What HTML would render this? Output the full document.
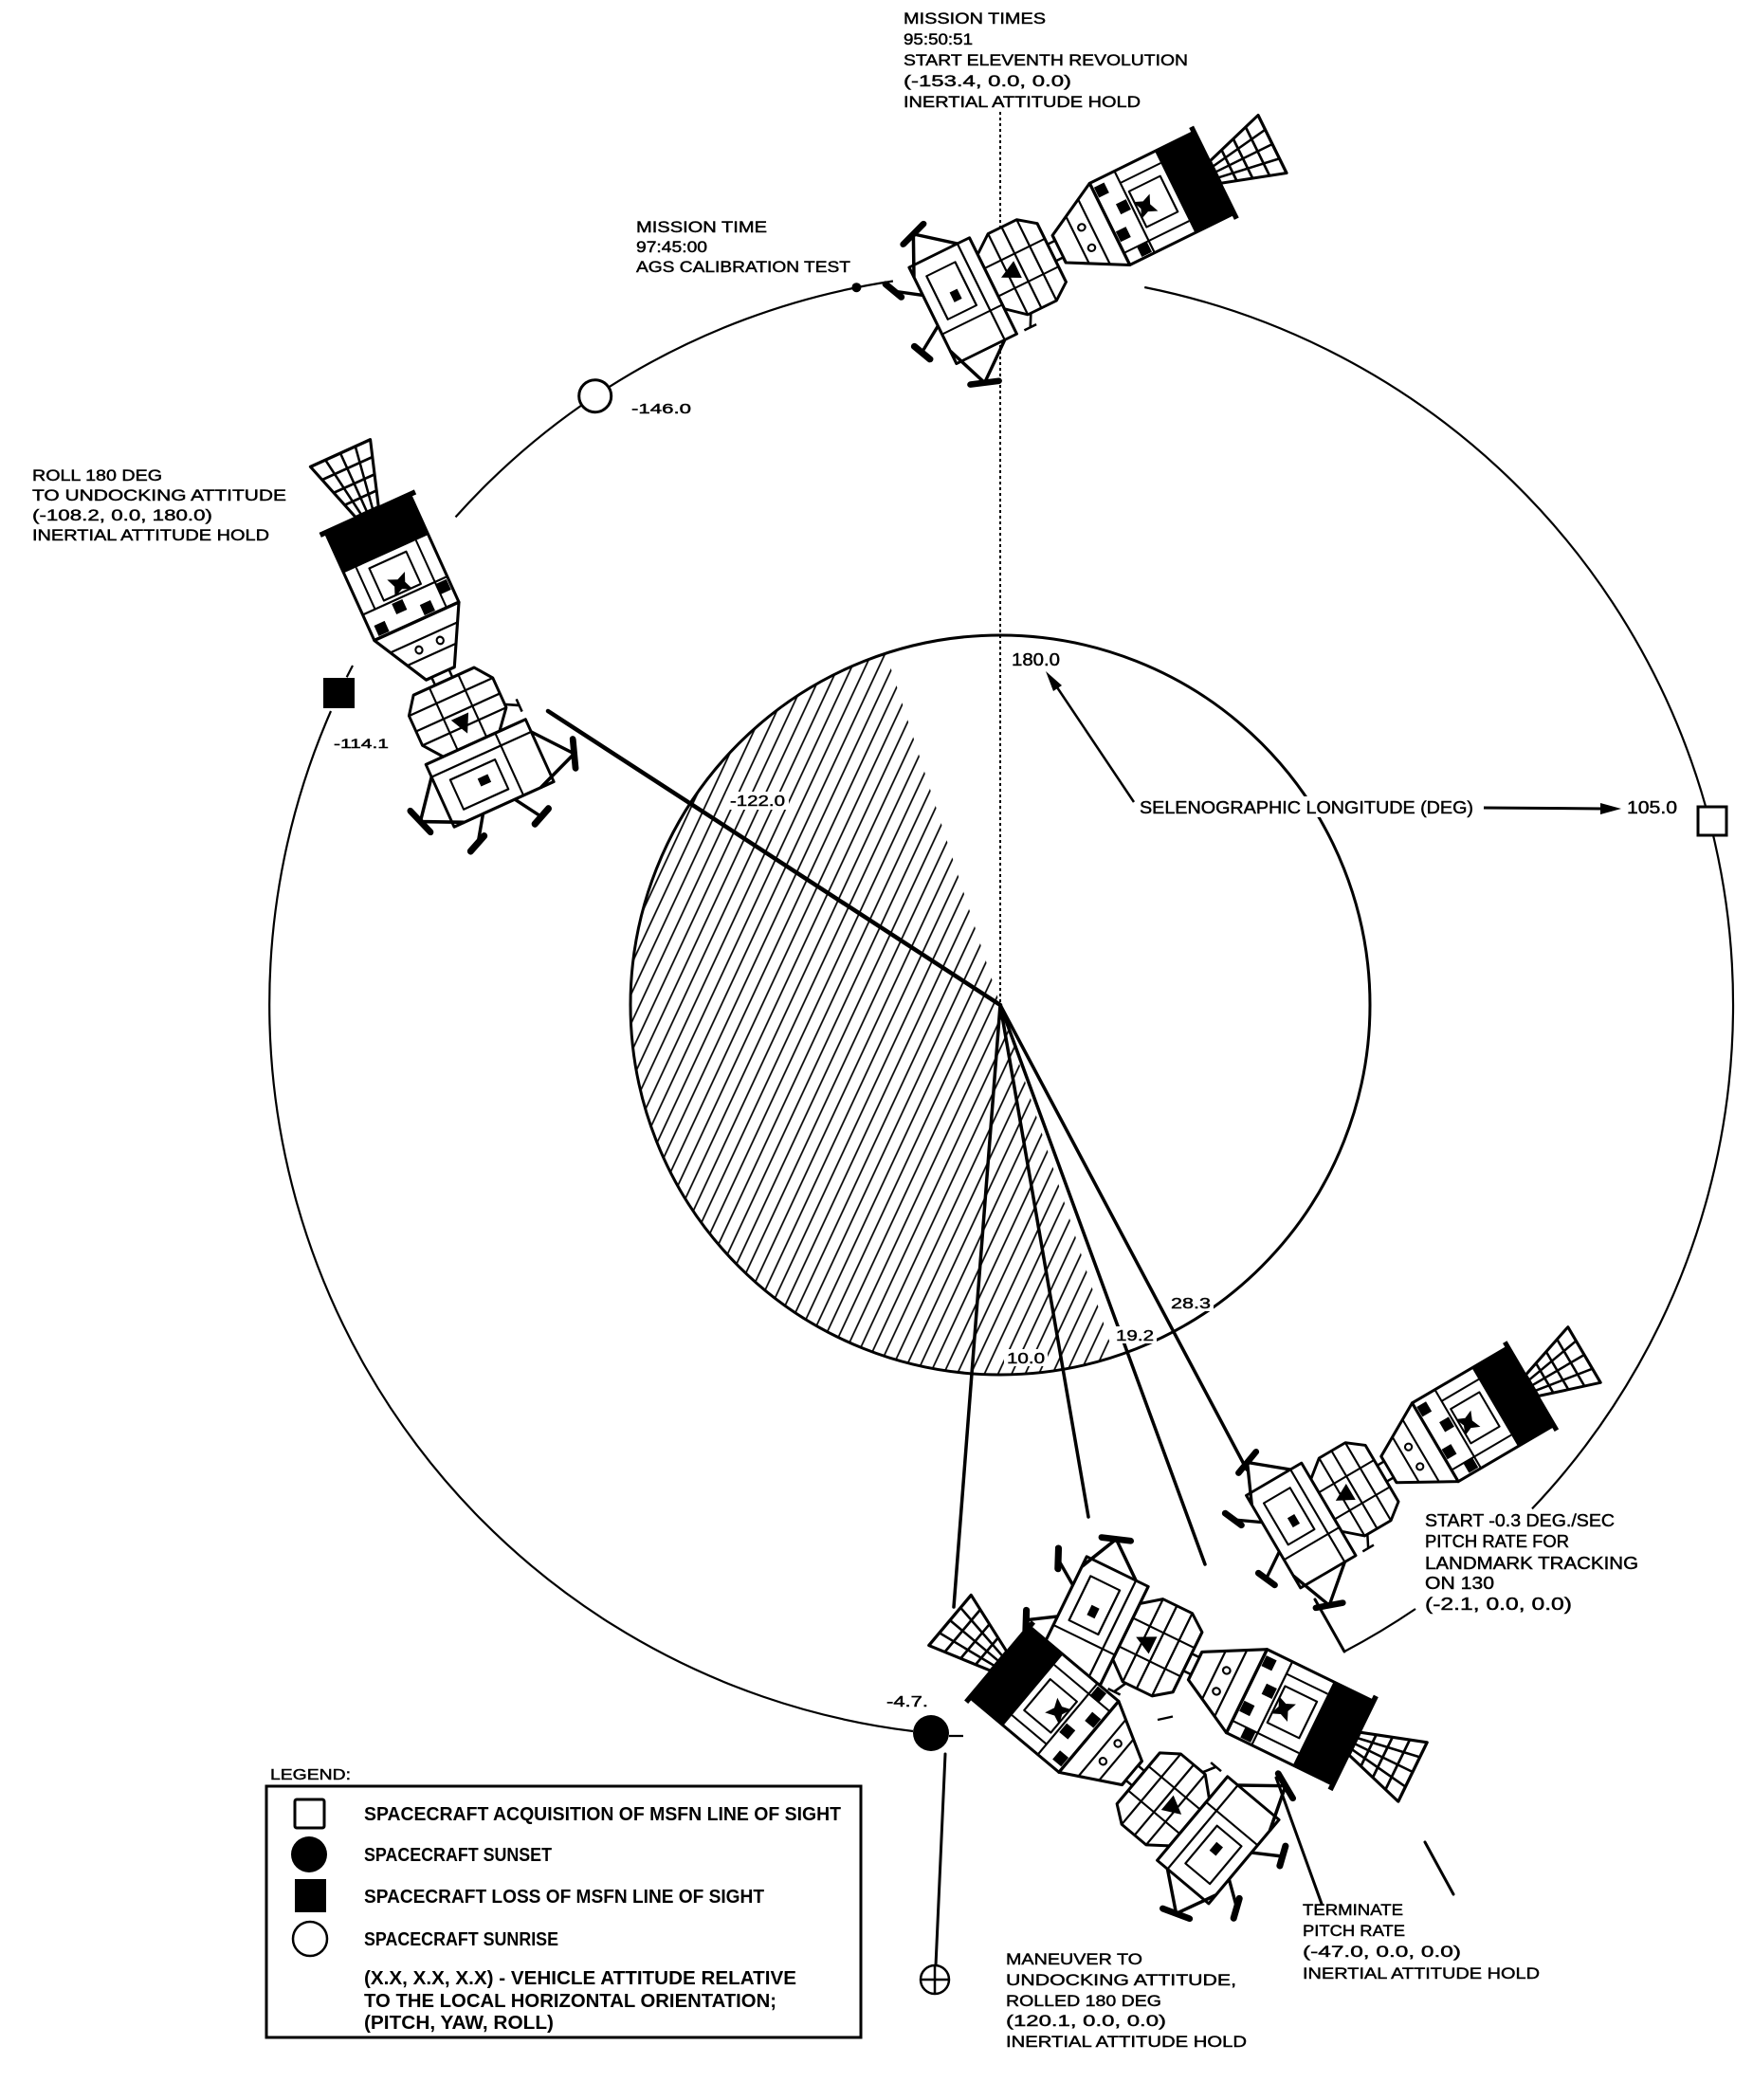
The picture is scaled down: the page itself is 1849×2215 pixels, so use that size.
<!DOCTYPE html>
<html>
<head>
<meta charset="utf-8">
<style>
html,body{margin:0;padding:0;background:#fff;}
body{width:1849px;height:2215px;overflow:hidden;}
svg{display:block;}
text{font-family:"Liberation Sans",sans-serif;fill:#000;stroke:#000;stroke-width:0.45;}
.b{font-weight:bold;stroke-width:0;}
</style>
</head>
<body>
<svg width="1849" height="2215" viewBox="0 0 1849 2215" xmlns="http://www.w3.org/2000/svg" xmlns:xlink="http://www.w3.org/1999/xlink">
<defs>
  <pattern id="h" patternUnits="userSpaceOnUse" width="13" height="13" patternTransform="rotate(25)">
    <line x1="6.5" y1="-1" x2="6.5" y2="14" stroke="#000" stroke-width="1.7"/>
  </pattern>
  <g id="ship" stroke="#000" stroke-linejoin="round" fill="#fff">
    <!-- nozzle -->
    <path d="M0,-34 L62,-13 L62,13 L0,34 Z" stroke-width="3"/>
    <path d="M16,-28.6 V28.6 M32,-23.4 V23.4 M47,-18.2 V18.2 M0,-17 L62,-6.5 M0,0 H62 M0,17 L62,6.5" fill="none" stroke-width="2.5"/>
    <rect x="61" y="-54" width="5" height="108" fill="#000" stroke="none"/>
    <!-- service module -->
    <rect x="66" y="-48" width="111" height="96" stroke-width="3"/>
    <rect x="66" y="-48" width="40" height="96" fill="#000" stroke="none"/>
    <path d="M106,-34 H177 M150,-48 V48 M112,-20 H146 V22 H112 Z M106,34 H150" fill="none" stroke-width="2"/>
    <path d="M129,-10 L133,0 L129,10 L138,6 L147,10 L143,0 L147,-10 L138,-6 Z" fill="#000" stroke="none"/>
    <rect x="152" y="-46" width="11" height="12" fill="#000" stroke="none"/>
    <rect x="164" y="-22" width="11" height="12" fill="#000" stroke="none"/>
    <rect x="152" y="4" width="11" height="12" fill="#000" stroke="none"/>
    <rect x="164" y="30" width="11" height="12" fill="#000" stroke="none"/>
    <!-- command module cone -->
    <path d="M177,-48 L232,-16 L232,16 L177,48 Z" stroke-width="3"/>
    <path d="M194,-38 V38 M212,-27 V27" fill="none" stroke-width="2"/>
    <circle cx="203" cy="-14" r="3.5" stroke-width="2"/>
    <circle cx="203" cy="10" r="3.5" stroke-width="2"/>
    <!-- lunar module (scaled about docking point) -->
    <g transform="translate(232,0) scale(0.82) translate(-232,0)">
      <rect x="232" y="-12" width="10" height="24" stroke-width="3"/>
      <path d="M242,-42 L262,-58 L300,-58 L322,-38 L322,40 L300,58 L262,58 L242,42 Z" stroke-width="3.5"/>
      <path d="M262,-58 V58 M282,-58 V58 M242,-20 H322 M242,20 H322 M300,-58 V58" fill="none" stroke-width="2.5"/>
      <path d="M287,-12 L309,0 L287,12 Z" fill="#000" stroke="none"/>
      <path d="M296,-58 L304,-74 M296,-74 H312" fill="none" stroke-width="3"/>
      <path d="M322,-74 L402,-74 L402,64 L322,64 Z" stroke-width="3.5"/>
      <path d="M338,-74 V64 M322,-32 H402 M350,-18 H388 V44 H350 Z" fill="none" stroke-width="2.5"/>
      <rect x="362" y="-2" width="10" height="14" fill="#000" stroke="none"/>
      <path d="M338,-74 L382,-112 M402,-56 L382,-112 M338,64 L380,100 M402,50 L380,100 M402,-20 L434,-42 M402,24 L432,46" fill="none" stroke-width="4"/>
      <path d="M366,-118 L398,-106 M364,106 L396,94 M428,-54 L438,-30 M426,34 L436,58" fill="none" stroke-width="8" stroke-linecap="round"/>
    </g>
  </g>
</defs>

<rect x="0" y="0" width="1849" height="2215" fill="#fff"/>

<!-- hatched (shadow) half of moon -->
<path d="M1055,1060 L934.5,689 A390,390 0 0 0 1175.5,1431 Z" fill="url(#h)"/>
<circle cx="1055" cy="1060" r="390" fill="none" stroke="#000" stroke-width="3"/>

<!-- dotted vertical reference line -->
<line x1="1055" y1="118" x2="1055" y2="1060" stroke="#000" stroke-width="2" stroke-dasharray="3,3"/>

<!-- orbit arcs -->
<g fill="none" stroke="#000" stroke-width="2.2">
  <path d="M963,1826 A772,772 0 0 1 349,750"/>
  <path d="M365.7,714.3 A772,772 0 0 1 372,702"/>
  <path d="M480.5,545.4 A772,772 0 0 1 613.2,427.6"/>
  <path d="M642.4,408.2 A772,772 0 0 1 941.9,296.5"/>
  <path d="M1207.2,303 A772,772 0 0 1 1799.2,851.1"/>
  <path d="M1807,881 A772,772 0 0 1 1616,1591.4"/>
  <path d="M1418,1742 A772,772 0 0 0 1493,1697"/>
  <path d="M1001,1831 A772,772 0 0 0 1016,1831"/>
  <path d="M1221,1814 A772,772 0 0 0 1237,1810.5"/>
</g>

<!-- radial lines -->
<g stroke="#000" stroke-linecap="round">
  <line x1="1055" y1="1060" x2="578" y2="750" stroke-width="4.5"/>
  <line x1="1055" y1="1060" x2="1006" y2="1695" stroke-width="3.5"/>
  <line x1="1055" y1="1060" x2="1148" y2="1600" stroke-width="3.5"/>
  <line x1="1055" y1="1060" x2="1271" y2="1650" stroke-width="3.5"/>
  <line x1="1055" y1="1060" x2="1315" y2="1550" stroke-width="3.5"/>
  <line x1="1387" y1="1687" x2="1418" y2="1742" stroke-width="3"/>
  <line x1="1503" y1="1943" x2="1533" y2="1998" stroke-width="3"/>
  <line x1="1346" y1="1875" x2="1394" y2="2008" stroke-width="3"/>
  <line x1="997" y1="1850" x2="987" y2="2073" stroke-width="3"/>
</g>

<!-- spacecraft -->
<use href="#ship" xlink:href="#ship" transform="translate(1342,152) rotate(153.8) scale(1.08,1.0)"/>
<use href="#ship" xlink:href="#ship" transform="translate(359,478) rotate(65.6) scale(1.1,1.02)"/>
<use href="#ship" xlink:href="#ship" transform="translate(1671,1429) rotate(149.6) scale(1.03,1.0)"/>
<use href="#ship" xlink:href="#ship" transform="translate(1490,1869) rotate(206) scale(1.1,1.02)"/>
<use href="#ship" xlink:href="#ship" transform="translate(1002,1709) rotate(40) scale(1.08,1.02)"/>

<!-- orbit markers -->
<circle cx="627.7" cy="417.7" r="17" fill="#fff" stroke="#000" stroke-width="3"/>
<circle cx="903.4" cy="303.2" r="5" fill="#000"/>
<rect x="341" y="715" width="33" height="32" fill="#000"/>
<rect x="1791" y="851" width="30" height="30" fill="#fff" stroke="#000" stroke-width="3"/>
<circle cx="982" cy="1828" r="19" fill="#000"/>
<circle cx="986" cy="2088" r="15" fill="#fff" stroke="#000" stroke-width="2.5"/>
<path d="M971,2088 H1001 M986,2073 V2103" stroke="#000" stroke-width="2.5"/>

<!-- selenographic longitude label + arrows -->
<rect x="1198" y="840" width="360" height="22" fill="#fff"/>
<line x1="1196" y1="846" x2="1113" y2="722" stroke="#000" stroke-width="2.5"/>
<polygon points="1103,708 1120,723 1111,729" fill="#000"/>
<line x1="1565" y1="852" x2="1692" y2="853" stroke="#000" stroke-width="3"/>
<polygon points="1710,853 1688,847 1688,859" fill="#000"/>
<text x="1202" y="858" font-size="18" textLength="352" lengthAdjust="spacingAndGlyphs">SELENOGRAPHIC LONGITUDE (DEG)</text>
<text x="1716" y="858" font-size="18" textLength="53" lengthAdjust="spacingAndGlyphs">105.0</text>

<!-- numeric labels -->
<rect x="1064" y="686" width="57" height="20" fill="#fff"/>
<text x="1067" y="702" font-size="18" textLength="51" lengthAdjust="spacingAndGlyphs">180.0</text>
<rect x="766" y="835" width="66" height="19" fill="#fff"/>
<text x="770" y="850" font-size="16" textLength="58" lengthAdjust="spacingAndGlyphs">-122.0</text>
<rect x="1232" y="1365" width="48" height="18" fill="#fff"/>
<text x="1235" y="1380" font-size="16" textLength="42" lengthAdjust="spacingAndGlyphs">28.3</text>
<rect x="1174" y="1399" width="46" height="18" fill="#fff"/>
<text x="1177" y="1414" font-size="16" textLength="40" lengthAdjust="spacingAndGlyphs">19.2</text>
<rect x="1059" y="1423" width="46" height="18" fill="#fff"/>
<text x="1062" y="1438" font-size="16" textLength="40" lengthAdjust="spacingAndGlyphs">10.0</text>
<text x="935" y="1800" font-size="16" textLength="44" lengthAdjust="spacingAndGlyphs">-4.7.</text>
<text x="352" y="789" font-size="14" textLength="58" lengthAdjust="spacingAndGlyphs">-114.1</text>
<text x="666" y="436" font-size="15" textLength="63" lengthAdjust="spacingAndGlyphs">-146.0</text>

<!-- top annotation -->
<g font-size="16.5">
  <text x="953" y="25" textLength="150" lengthAdjust="spacingAndGlyphs">MISSION TIMES</text>
  <text x="953" y="47" textLength="73" lengthAdjust="spacingAndGlyphs">95:50:51</text>
  <text x="953" y="69" textLength="300" lengthAdjust="spacingAndGlyphs">START ELEVENTH REVOLUTION</text>
  <text x="953" y="91" textLength="177" lengthAdjust="spacingAndGlyphs">(-153.4, 0.0, 0.0)</text>
  <text x="953" y="113" textLength="250" lengthAdjust="spacingAndGlyphs">INERTIAL ATTITUDE HOLD</text>
</g>

<!-- AGS calibration -->
<g font-size="16.5">
  <text x="671" y="245" textLength="138" lengthAdjust="spacingAndGlyphs">MISSION TIME</text>
  <text x="671" y="266" textLength="75" lengthAdjust="spacingAndGlyphs">97:45:00</text>
  <text x="671" y="287" textLength="226" lengthAdjust="spacingAndGlyphs">AGS CALIBRATION TEST</text>
</g>

<!-- roll 180 -->
<g font-size="16.5">
  <text x="34" y="507" textLength="137" lengthAdjust="spacingAndGlyphs">ROLL 180 DEG</text>
  <text x="34" y="528" textLength="268" lengthAdjust="spacingAndGlyphs">TO UNDOCKING ATTITUDE</text>
  <text x="34" y="549" textLength="190" lengthAdjust="spacingAndGlyphs">(-108.2, 0.0, 180.0)</text>
  <text x="34" y="570" textLength="250" lengthAdjust="spacingAndGlyphs">INERTIAL ATTITUDE HOLD</text>
</g>

<!-- start pitch rate -->
<g font-size="18">
  <text x="1503" y="1610" textLength="200" lengthAdjust="spacingAndGlyphs">START -0.3 DEG./SEC</text>
  <text x="1503" y="1632" textLength="152" lengthAdjust="spacingAndGlyphs">PITCH RATE FOR</text>
  <text x="1503" y="1655" textLength="225" lengthAdjust="spacingAndGlyphs">LANDMARK TRACKING</text>
  <text x="1503" y="1676" textLength="73" lengthAdjust="spacingAndGlyphs">ON 130</text>
  <text x="1503" y="1698" textLength="155" lengthAdjust="spacingAndGlyphs">(-2.1, 0.0, 0.0)</text>
</g>

<!-- terminate -->
<g font-size="17">
  <text x="1374" y="2020" textLength="106" lengthAdjust="spacingAndGlyphs">TERMINATE</text>
  <text x="1374" y="2042" textLength="108" lengthAdjust="spacingAndGlyphs">PITCH RATE</text>
  <text x="1374" y="2064" textLength="167" lengthAdjust="spacingAndGlyphs">(-47.0, 0.0, 0.0)</text>
  <text x="1374" y="2087" textLength="250" lengthAdjust="spacingAndGlyphs">INERTIAL ATTITUDE HOLD</text>
</g>

<!-- maneuver -->
<g font-size="17">
  <text x="1061" y="2072" textLength="144" lengthAdjust="spacingAndGlyphs">MANEUVER TO</text>
  <text x="1061" y="2094" textLength="243" lengthAdjust="spacingAndGlyphs">UNDOCKING ATTITUDE,</text>
  <text x="1061" y="2116" textLength="164" lengthAdjust="spacingAndGlyphs">ROLLED 180 DEG</text>
  <text x="1061" y="2137" textLength="169" lengthAdjust="spacingAndGlyphs">(120.1, 0.0, 0.0)</text>
  <text x="1061" y="2159" textLength="254" lengthAdjust="spacingAndGlyphs">INERTIAL ATTITUDE HOLD</text>
</g>

<!-- legend -->
<text x="285" y="1877" font-size="16" textLength="85" lengthAdjust="spacingAndGlyphs">LEGEND:</text>
<rect x="281" y="1884" width="627" height="265" fill="none" stroke="#000" stroke-width="3"/>
<rect x="311" y="1898" width="31" height="30" rx="2" fill="#fff" stroke="#000" stroke-width="3"/>
<circle cx="326" cy="1956" r="19" fill="#000"/>
<rect x="311" y="1982" width="33" height="35" fill="#000"/>
<circle cx="327" cy="2045" r="18" fill="#fff" stroke="#000" stroke-width="2.5"/>
<g font-size="20" class="b">
  <text class="b" x="384" y="1920" textLength="503" lengthAdjust="spacingAndGlyphs">SPACECRAFT ACQUISITION OF MSFN LINE OF SIGHT</text>
  <text class="b" x="384" y="1963" textLength="198" lengthAdjust="spacingAndGlyphs">SPACECRAFT SUNSET</text>
  <text class="b" x="384" y="2007" textLength="422" lengthAdjust="spacingAndGlyphs">SPACECRAFT LOSS OF MSFN LINE OF SIGHT</text>
  <text class="b" x="384" y="2052" textLength="205" lengthAdjust="spacingAndGlyphs">SPACECRAFT SUNRISE</text>
  <text class="b" x="384" y="2093" textLength="456" lengthAdjust="spacingAndGlyphs">(X.X, X.X, X.X) - VEHICLE ATTITUDE RELATIVE</text>
  <text class="b" x="384" y="2117" textLength="435" lengthAdjust="spacingAndGlyphs">TO THE LOCAL HORIZONTAL ORIENTATION;</text>
  <text class="b" x="384" y="2140" textLength="200" lengthAdjust="spacingAndGlyphs">(PITCH, YAW, ROLL)</text>
</g>
</svg>
</body>
</html>
